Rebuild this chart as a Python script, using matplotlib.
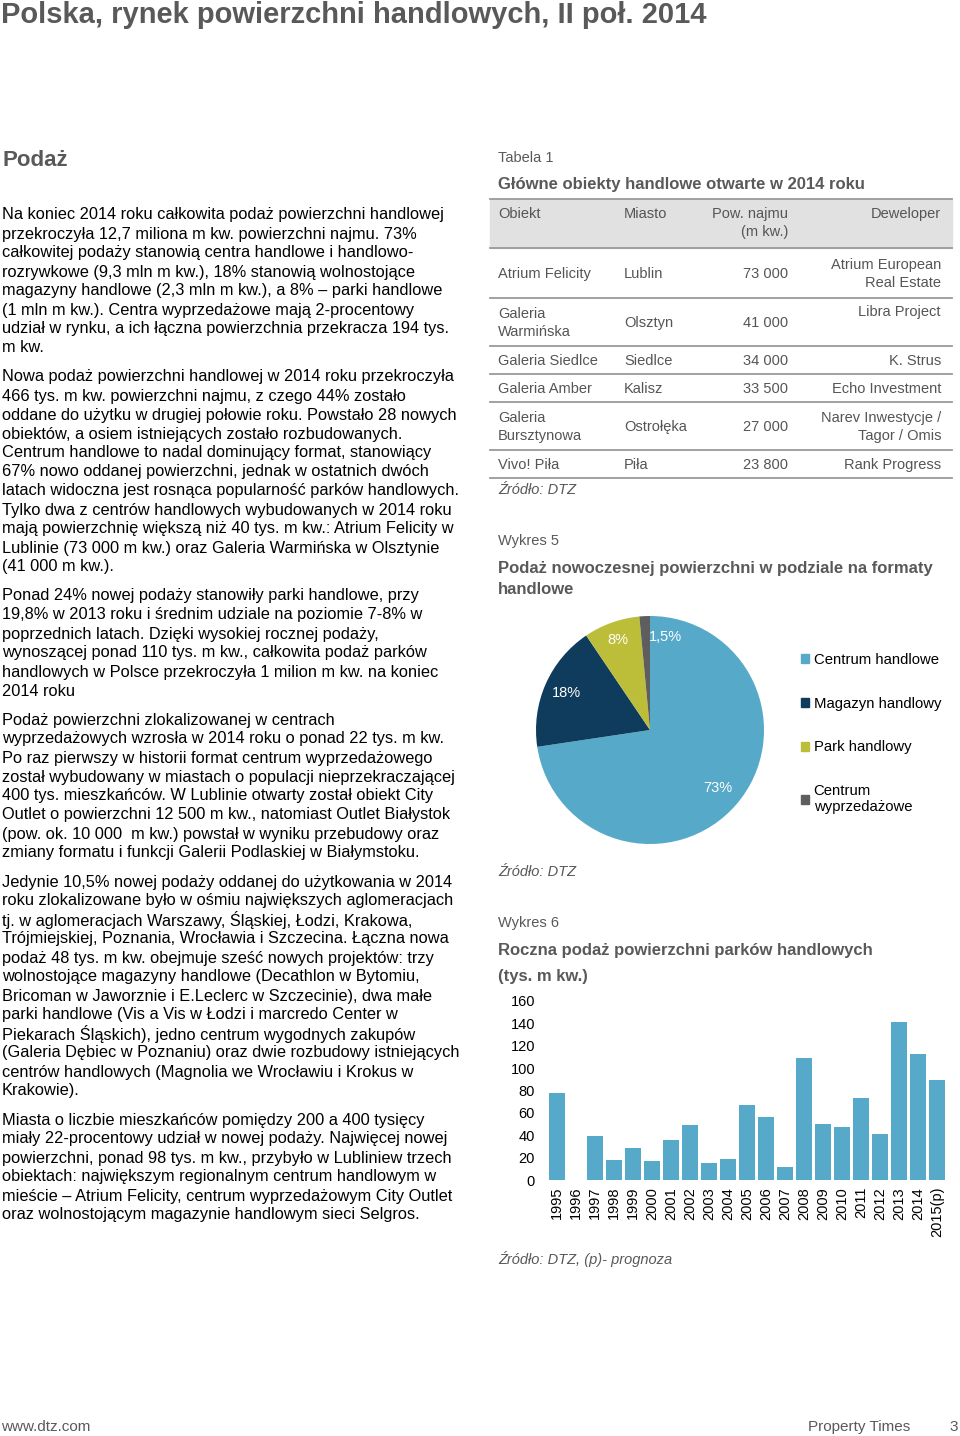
import matplotlib
matplotlib.use("Agg")
import matplotlib.pyplot as plt
import numpy as np
from matplotlib.patches import Rectangle, Patch
from matplotlib.lines import Line2D

W, H = 960, 1436
plt.rcParams['font.family'] = ['Liberation Sans', 'DejaVu Sans']

GRAY = '#595959'
TXT = '#000000'
TAB = '#555555'
BLUE = '#56a9c8'
NAVY = '#0f3c5d'
OLIVE = '#bcbe3a'
DGRAY = '#5e5e5e'

# ---- data ----
title = 'Polska, rynek powierzchni handlowych, II poł. 2014'

paragraphs = [
    ['Na koniec 2014 roku całkowita podaż powierzchni handlowej',
     'przekroczyła 12,7 miliona m kw. powierzchni najmu. 73%',
     'całkowitej podaży stanowią centra handlowe i handlowo-',
     'rozrywkowe (9,3 mln m kw.), 18% stanowią wolnostojące',
     'magazyny handlowe (2,3 mln m kw.), a 8% – parki handlowe',
     '(1 mln m kw.). Centra wyprzedażowe mają 2-procentowy',
     'udział w rynku, a ich łączna powierzchnia przekracza 194 tys.',
     'm kw.'],
    ['Nowa podaż powierzchni handlowej w 2014 roku przekroczyła',
     '466 tys. m kw. powierzchni najmu, z czego 44% zostało',
     'oddane do użytku w drugiej połowie roku. Powstało 28 nowych',
     'obiektów, a osiem istniejących zostało rozbudowanych.',
     'Centrum handlowe to nadal dominujący format, stanowiący',
     '67% nowo oddanej powierzchni, jednak w ostatnich dwóch',
     'latach widoczna jest rosnąca popularność parków handlowych.',
     'Tylko dwa z centrów handlowych wybudowanych w 2014 roku',
     'mają powierzchnię większą niż 40 tys. m kw.: Atrium Felicity w',
     'Lublinie (73 000 m kw.) oraz Galeria Warmińska w Olsztynie',
     '(41 000 m kw.).'],
    ['Ponad 24% nowej podaży stanowiły parki handlowe, przy',
     '19,8% w 2013 roku i średnim udziale na poziomie 7-8% w',
     'poprzednich latach. Dzięki wysokiej rocznej podaży,',
     'wynoszącej ponad 110 tys. m kw., całkowita podaż parków',
     'handlowych w Polsce przekroczyła 1 milion m kw. na koniec',
     '2014 roku'],
    ['Podaż powierzchni zlokalizowanej w centrach',
     'wyprzedażowych wzrosła w 2014 roku o ponad 22 tys. m kw.',
     'Po raz pierwszy w historii format centrum wyprzedażowego',
     'został wybudowany w miastach o populacji nieprzekraczającej',
     '400 tys. mieszkańców. W Lublinie otwarty został obiekt City',
     'Outlet o powierzchni 12 500 m kw., natomiast Outlet Białystok',
     '(pow. ok. 10 000  m kw.) powstał w wyniku przebudowy oraz',
     'zmiany formatu i funkcji Galerii Podlaskiej w Białymstoku.'],
    ['Jedynie 10,5% nowej podaży oddanej do użytkowania w 2014',
     'roku zlokalizowane było w ośmiu największych aglomeracjach',
     'tj. w aglomeracjach Warszawy, Śląskiej, Łodzi, Krakowa,',
     'Trójmiejskiej, Poznania, Wrocławia i Szczecina. Łączna nowa',
     'podaż 48 tys. m kw. obejmuje sześć nowych projektów: trzy',
     'wolnostojące magazyny handlowe (Decathlon w Bytomiu,',
     'Bricoman w Jaworznie i E.Leclerc w Szczecinie), dwa małe',
     'parki handlowe (Vis a Vis w Łodzi i marcredo Center w',
     'Piekarach Śląskich), jedno centrum wygodnych zakupów',
     '(Galeria Dębiec w Poznaniu) oraz dwie rozbudowy istniejących',
     'centrów handlowych (Magnolia we Wrocławiu i Krokus w',
     'Krakowie).'],
    ['Miasta o liczbie mieszkańców pomiędzy 200 a 400 tysięcy',
     'miały 22-procentowy udział w nowej podaży. Najwięcej nowej',
     'powierzchni, ponad 98 tys. m kw., przybyło w Lubliniew trzech',
     'obiektach: największym regionalnym centrum handlowym w',
     'mieście – Atrium Felicity, centrum wyprzedażowym City Outlet',
     'oraz wolnostojącym magazynie handlowym sieci Selgros.'],
]
para_start = [215, 377, 596, 720, 882, 1120]

tab_cols = ['Obiekt', 'Miasto', 'Pow. najmu\n(m kw.)', 'Deweloper']
tab_obiekt = ['Atrium Felicity', 'Galeria\nWarmińska', 'Galeria Siedlce',
              'Galeria Amber', 'Galeria\nBursztynowa', 'Vivo! Piła']
tab_miasto = ['Lublin', 'Olsztyn', 'Siedlce', 'Kalisz', 'Ostrołęka', 'Piła']
tab_pow = ['73 000', '41 000', '34 000', '33 500', '27 000', '23 800']
tab_dew = ['Atrium European\nReal Estate', 'Libra Project', 'K. Strus',
           'Echo Investment', 'Narev Inwestycje /\nTagor / Omis', 'Rank Progress']

pie_labels = ['Centrum handlowe', 'Magazyn handlowy', 'Park handlowy',
              'Centrum\nwyprzedażowe']
pie_vals = [73, 18, 8, 1.5]
pie_txt = ['73%', '18%', '8%', '1,5%']

years = ['1995', '1996', '1997', '1998', '1999', '2000', '2001', '2002',
         '2003', '2004', '2005', '2006', '2007', '2008', '2009', '2010',
         '2011', '2012', '2013', '2014', '2015(p)']
supply = [78, 0, 39, 18, 29, 17, 36, 49, 15, 19, 67, 56, 12, 109, 50, 47,
          73, 41, 141, 113, 89]


def fx(x):
    return x / W


def fy(y):
    return 1 - y / H


def put(x, y, s, **kw):
    kw.setdefault('va', 'center')
    kw.setdefault('fontsize', 11.5)
    fig.text(fx(x), fy(y), s, **kw)


fig = plt.figure(figsize=(W / 100, H / 100), dpi=100)

# title + footer
put(1, 15, title, fontsize=21, fontweight='bold', color=GRAY)
put(1, 1427, 'www.dtz.com', fontsize=11, color=GRAY)
put(910, 1427, 'Property Times', fontsize=11, color=GRAY, ha='right')
put(958, 1427, '3', fontsize=11, color=GRAY, ha='right')

# left column
put(2, 160, 'Podaż', fontsize=16, fontweight='bold', color=GRAY)
for lines, y0 in zip(paragraphs, para_start):
    for i, ln in enumerate(lines):
        put(2, y0 + i * 19, ln, color=TXT, fontsize=11.8)

# ---- table ----
put(498, 158, 'Tabela 1', fontsize=10.5, color=GRAY)
put(498, 185, 'Główne obiekty handlowe otwarte w 2014 roku', fontsize=12,
    fontweight='bold', color=GRAY)
tx0, tx1 = 490, 952
row_lines = [199, 248, 298, 346, 374, 402, 450, 478]
fig.patches.append(Rectangle((fx(tx0), fy(248)), fx(tx1 - tx0), (248 - 199) / H,
                             transform=fig.transFigure, color='#e1e1e1', zorder=0))
for yl in row_lines:
    fig.lines.append(Line2D([fx(tx0), fx(tx1)], [fy(yl), fy(yl)],
                            transform=fig.transFigure, color='#9a9a9a', lw=1.3))

col_x = [498, 624, 788, 941]
col_ha = ['left', 'left', 'right', 'right']
ts = 10.5
# header (top aligned)
for j, c in enumerate(tab_cols):
    fig.text(fx(col_x[j]), fy(207), c, fontsize=ts, color=TAB, ha=col_ha[j],
             va='top', linespacing=1.4, multialignment=col_ha[j])
for i in range(len(tab_obiekt)):
    ytop, ybot = row_lines[i + 1], row_lines[i + 2]
    yc = (ytop + ybot) / 2 + 1
    for j, s in enumerate([tab_obiekt[i], tab_miasto[i], tab_pow[i], tab_dew[i]]):
        yy = yc
        if j == 3 and i == 1:
            yy = ytop + 14
        fig.text(fx(col_x[j]), fy(yy), s, fontsize=ts, color=TAB, ha=col_ha[j],
                 va='center', linespacing=1.4, multialignment=col_ha[j])
put(498, 490, 'Źródło: DTZ', fontsize=10.5, color=GRAY, style='italic')

# ---- pie ----
put(498, 541, 'Wykres 5', fontsize=10.5, color=GRAY)
put(498, 568, 'Podaż nowoczesnej powierzchni w podziale na formaty', fontsize=12,
    fontweight='bold', color=GRAY)
put(498, 590, 'handlowe', fontsize=12, fontweight='bold', color=GRAY)

cx, cy, r = 650, 730, 114
axp = fig.add_axes([fx(cx - r), fy(cy + r), 2 * r / W, 2 * r / H])
wedges, _ = axp.pie(pie_vals, colors=[BLUE, NAVY, OLIVE, DGRAY], startangle=90,
                    counterclock=False, radius=1)
axp.set_xlim(-1, 1)
axp.set_ylim(-1, 1)
axp.set_aspect('auto')
tot = sum(pie_vals)
ang0 = 90
dists = [0.78, 0.8, 0.84, 0.82]
for k, (v, t) in enumerate(zip(pie_vals, pie_txt)):
    mid = ang0 - v / tot * 360 / 2
    ang0 -= v / tot * 360
    a = np.deg2rad(mid)
    x, y = dists[k] * np.cos(a), dists[k] * np.sin(a)
    ha = 'center'
    if k == 3:
        x, y, ha = -0.01, 0.82, 'left'
    axp.text(x, y, t, color='white', fontsize=10.5, ha=ha, va='center')

leg_handles = [Patch(color=c) for c in [BLUE, NAVY, OLIVE, DGRAY]]
fig.legend(leg_handles, pie_labels, loc='upper left',
           bbox_to_anchor=(fx(801), fy(653)), frameon=False, fontsize=10.7,
           handlelength=0.55, handleheight=0.55, handletextpad=0.3,
           labelspacing=2.0, borderaxespad=0, borderpad=0)
put(498, 872, 'Źródło: DTZ', fontsize=10.5, color=GRAY, style='italic')

# ---- bar chart ----
put(498, 923, 'Wykres 6', fontsize=10.5, color=GRAY)
put(498, 950, 'Roczna podaż powierzchni parków handlowych', fontsize=12,
    fontweight='bold', color=GRAY)
put(498, 977, '(tys. m kw.)', fontsize=12, fontweight='bold', color=GRAY)

axb = fig.add_axes([fx(547.5), fy(1180), (946.5 - 547.5) / W, (1180 - 1001) / H])
axb.bar(range(len(years)), supply, width=0.83, color=BLUE)
axb.set_xlim(-0.5, len(years) - 0.5)
axb.set_ylim(0, 160)
axb.set_yticks(range(0, 161, 20))
axb.set_xticks(range(len(years)))
axb.set_xticklabels(years, rotation=90, fontsize=10.5)
axb.tick_params(axis='both', length=0, labelsize=10.5)
axb.tick_params(axis='y', pad=9)
axb.tick_params(axis='x', pad=5)
for s in axb.spines.values():
    s.set_visible(False)
put(498, 1259, 'Źródło: DTZ, (p)- prognoza', fontsize=10.5, color=GRAY,
    style='italic')

fig.savefig('out.png', dpi=100)
